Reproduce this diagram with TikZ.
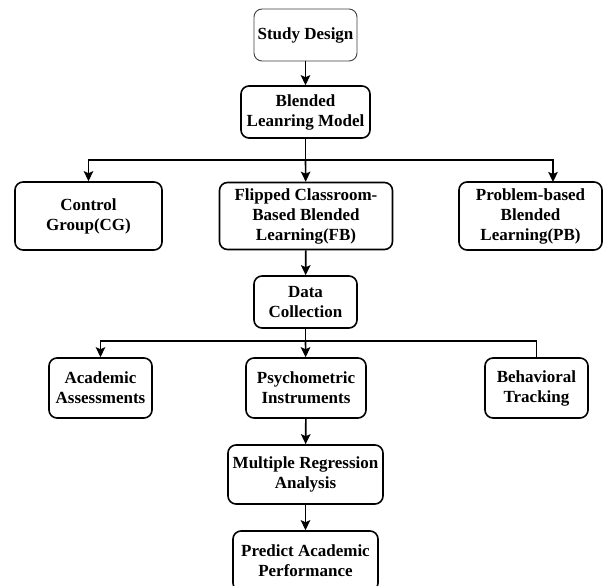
\documentclass[tikz,border=0pt]{standalone}
\usepackage{fontspec}
\setmainfont{Liberation Serif}
\usetikzlibrary{arrows.meta}
\tikzset{
  box/.style={draw=black, rounded corners=8pt, line width=1.6pt, inner sep=0pt, align=center,
    font=\bfseries\fontsize{17}{20}\selectfont, fill=white},
  thinbox/.style={box, line width=0.9pt, draw=black!75},
  link/.style={line width=1.6pt, draw=black},
  arr/.style={link, -{Stealth[length=10pt,width=9.5pt,inset=2pt]}},
}
\begin{document}
\begin{tikzpicture}[x=1pt,y=-1pt]
\clip (0,0) rectangle (603,586);
\fill[white] (0,0) rectangle (603,586);
\node[thinbox, minimum width=103pt, minimum height=52pt] (study) at (305.5,35) {Study Design};
\node[box, minimum width=129pt, minimum height=52pt] (blend) at (305.5,112) {Blended\\Leanring Model};
\node[box, minimum width=147pt, minimum height=68pt] (cg) at (88.5,216) {Control\\Group(CG)};
\node[box, minimum width=173pt, minimum height=67pt] (fb) at (306,216) {Flipped Classroom-\\Based Blended\\Learning(FB)};
\node[box, minimum width=143pt, minimum height=68pt] (pb) at (530.5,216) {Problem-based\\Blended\\Learning(PB)};
\node[box, minimum width=103pt, minimum height=52pt] (data) at (305.5,302) {Data\\Collection};
\node[box, minimum width=103pt, minimum height=60pt] (acad) at (100.5,388) {Academic\\Assessments};
\node[box, minimum width=120pt, minimum height=60pt] (psy) at (306,388) {Psychometric\\Instruments};
\node[box, minimum width=103pt, minimum height=60pt] (beh) at (536.5,388) {Behavioral\\Tracking};
\node[box, minimum width=155pt, minimum height=59pt] (mult) at (305.5,474.5) {Multiple Regression\\Analysis};
\node[box, minimum width=145pt, minimum height=60pt] (pred) at (305.5,561) {Predict Academic\\Performance};
\coordinate (j1) at (305.5,160);
\coordinate (j2) at (305.5,341);
\coordinate (pbin) at (553,182);
\draw[arr] (study) -- (blend);
\draw[link] (blend) -- (j1);
\draw[arr] (j1) -| (cg.north);
\draw[arr] (j1) -- (fb);
\draw[arr] (j1) -| (pbin);
\draw[arr] (fb) -- (data);
\draw[link] (data) -- (j2);
\draw[arr] (j2) -| (acad.north);
\draw[arr] (j2) -- (psy);
\draw[link] (j2) -| (beh.north);
\draw[arr] (psy) -- (mult);
\draw[arr] (mult) -- (pred);
\end{tikzpicture}
\end{document}
